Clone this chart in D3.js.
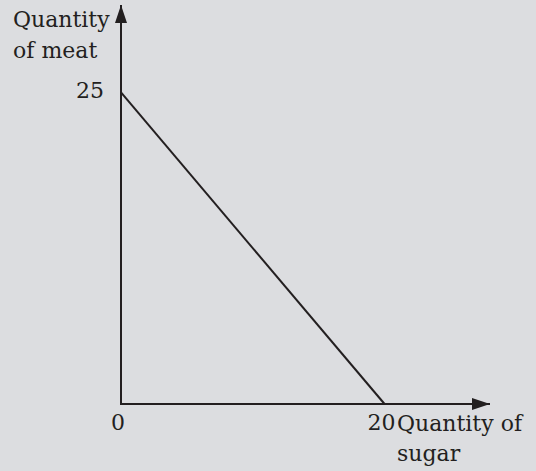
<!DOCTYPE html>
<html>
<head>
<meta charset="utf-8">
<script src="https://cdn.jsdelivr.net/npm/d3@7"></script>
<style>
  html, body { margin: 0; padding: 0; background: #dcdde0; }
  svg { display: block; }
  text { font-family: "DejaVu Serif", "Liberation Serif", serif; font-size: 22px; fill: #231f20; }
</style>
</head>
<body>
<div id="chart"></div>
<script>
// budget line: all money on meat or all on sugar
const sugar = [0, 20];
const meat = [25, 0];
const tickValuesX = [0, 20];
const tickValuesY = [25];
const axisMaxX = 28;
const axisMaxY = 32;

let width = 536;
let height = 471;
let ink = "#231f20";

let svg = d3.select("#chart")
    .append("svg")
    .attr("width", width)
    .attr("height", height);

let x = d3.scaleLinear()
    .domain([0, axisMaxX])
    .range([121, 490]);

let y = d3.scaleLinear()
    .domain([0, axisMaxY])
    .range([404, 5]);

// arrow heads
svg.append("defs").append("marker")
    .attr("id", "arrow")
    .attr("viewBox", "0 0 10 10")
    .attr("preserveAspectRatio", "none")
    .attr("refX", 10)
    .attr("refY", 5)
    .attr("markerUnits", "userSpaceOnUse")
    .attr("markerWidth", 18)
    .attr("markerHeight", 12)
    .attr("orient", "auto")
    .append("path")
    .attr("d", "M0,0L10,5L0,10Z")
    .attr("fill", ink);

// axes
svg.append("line")
    .attr("x1", x(0)).attr("y1", y(0))
    .attr("x2", x(0)).attr("y2", y(axisMaxY))
    .attr("stroke", ink)
    .attr("stroke-width", 2)
    .attr("marker-end", "url(#arrow)");

svg.append("line")
    .attr("x1", x(0) - 1).attr("y1", y(0))
    .attr("x2", x(axisMaxX)).attr("y2", y(0))
    .attr("stroke", ink)
    .attr("stroke-width", 2)
    .attr("marker-end", "url(#arrow)");

// the budget line
let line = d3.line()
    .x((d, i) => x(sugar[i]))
    .y(d => y(d));

svg.append("path")
    .datum(meat)
    .attr("d", line)
    .attr("fill", "none")
    .attr("stroke", ink)
    .attr("stroke-width", 2);

// tick labels
svg.selectAll(".xlab")
    .data(tickValuesX)
    .enter()
    .append("text")
    .attr("class", "xlab")
    .attr("x", d => x(d) - 3)
    .attr("y", 430)
    .attr("text-anchor", "middle")
    .text(d => d);

svg.selectAll(".ylab")
    .data(tickValuesY)
    .enter()
    .append("text")
    .attr("class", "ylab")
    .attr("x", 104)
    .attr("y", d => y(d) + 6)
    .attr("text-anchor", "end")
    .text(d => d);

// axis titles
svg.append("text").attr("x", 13).attr("y", 27).text("Quantity");
svg.append("text").attr("x", 13).attr("y", 58).text("of meat");
svg.append("text").attr("x", 397).attr("y", 431).text("Quantity of");
svg.append("text").attr("x", 397).attr("y", 461).text("sugar");
</script>
</body>
</html>
